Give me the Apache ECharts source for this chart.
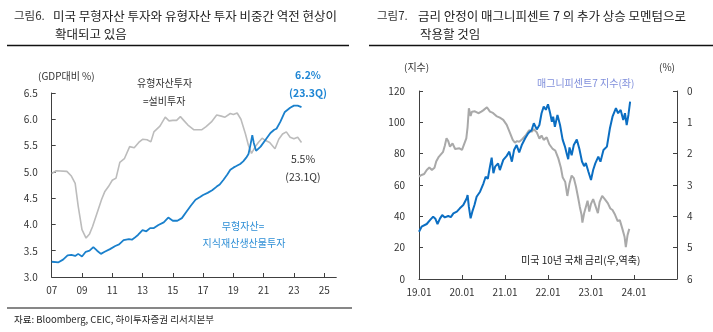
<!DOCTYPE html>
<html><head><meta charset="utf-8">
<script src="https://cdn.jsdelivr.net/npm/echarts@6.0.0/dist/echarts.min.js"></script>
<style>html,body{margin:0;padding:0;background:#fff}#c{width:713px;height:332px}</style>
</head><body><div id="c"></div><script>
// ---- Figure 6 (left): share of GDP, %
const tangibleYears = [2007.0,2007.3,2008.0,2008.3,2008.55,2008.75,2009.0,2009.27,2009.5,2009.7,2010.07,2010.3,2010.5,2010.75,2011.0,2011.25,2011.5,2011.8,2012.15,2012.45,2012.75,2013.0,2013.3,2013.55,2013.75,2014.15,2014.5,2014.75,2015.0,2015.25,2015.5,2015.75,2016.0,2016.4,2016.9,2017.2,2017.55,2017.9,2018.2,2018.45,2018.8,2019.0,2019.25,2019.5,2019.8,2020.0,2020.2,2020.45,2020.65,2020.9,2021.1,2021.4,2021.75,2022.0,2022.25,2022.5,2022.75,2023.0,2023.25,2023.5];
const tangibleVals  = [4.97,5.02,5.01,4.92,4.78,4.35,3.90,3.74,3.82,3.96,4.28,4.48,4.62,4.72,4.84,4.88,5.18,5.25,5.48,5.46,5.56,5.62,5.61,5.57,5.76,5.87,6.04,5.97,5.98,5.98,6.05,5.97,5.89,5.80,5.80,5.86,5.95,6.08,6.06,6.04,6.11,6.09,6.12,6.00,5.72,5.50,5.35,5.48,5.56,5.64,5.60,5.56,5.44,5.62,5.72,5.76,5.66,5.63,5.66,5.56];
const intangibleYears = [2007.0,2007.45,2007.75,2008.05,2008.3,2008.55,2008.75,2009.0,2009.25,2009.5,2009.75,2010.0,2010.25,2010.5,2010.85,2011.2,2011.45,2011.75,2012.1,2012.3,2012.45,2012.7,2013.0,2013.25,2013.5,2013.75,2014.05,2014.4,2014.7,2015.0,2015.3,2015.6,2015.9,2016.2,2016.5,2016.8,2017.0,2017.3,2017.6,2017.9,2018.1,2018.35,2018.6,2018.8,2019.0,2019.2,2019.45,2019.65,2019.85,2020.0,2020.12,2020.25,2020.35,2020.5,2020.8,2021.2,2021.45,2021.7,2021.85,2022.1,2022.4,2022.75,2023.0,2023.25,2023.5];
const intangibleVals  = [3.29,3.28,3.33,3.41,3.42,3.40,3.44,3.39,3.48,3.50,3.57,3.50,3.44,3.48,3.53,3.59,3.62,3.70,3.72,3.71,3.74,3.80,3.89,3.87,3.93,3.93,3.99,4.04,4.13,4.07,4.07,4.12,4.24,4.36,4.47,4.52,4.56,4.60,4.65,4.72,4.76,4.85,4.95,5.04,5.08,5.11,5.15,5.20,5.27,5.34,5.50,5.70,5.55,5.40,5.48,5.64,5.74,5.80,5.82,5.95,6.14,6.22,6.26,6.26,6.23];
const leftYTicks = [3.0,3.5,4.0,4.5,5.0,5.5,6.0,6.5];
const leftXLabels = ['07','09','11','13','15','17','19','21','23','25'];

// ---- Figure 7 (right)
const mag7Dates = [2019.0,2019.06,2019.18,2019.26,2019.33,2019.38,2019.43,2019.49,2019.54,2019.6,2019.68,2019.74,2019.8,2019.88,2019.95,2020.03,2020.11,2020.13,2020.16,2020.2,2020.24,2020.29,2020.34,2020.42,2020.5,2020.55,2020.6,2020.65,2020.69,2020.73,2020.77,2020.8,2020.84,2020.88,2020.96,2021.04,2021.1,2021.16,2021.21,2021.27,2021.33,2021.39,2021.47,2021.54,2021.62,2021.67,2021.74,2021.8,2021.85,2021.9,2021.95,2022.0,2022.05,2022.09,2022.12,2022.16,2022.22,2022.28,2022.34,2022.4,2022.44,2022.47,2022.5,2022.55,2022.6,2022.67,2022.73,2022.79,2022.84,2022.88,2022.94,2023.0,2023.05,2023.1,2023.17,2023.22,2023.29,2023.37,2023.44,2023.5,2023.58,2023.63,2023.69,2023.75,2023.79,2023.83,2023.87,2023.91];
const mag7Vals  = [30.2,33.4,35.1,37.7,39.8,38.5,35.1,38.7,40.8,39.3,40.2,39.5,41.9,43.0,45.1,47.2,51.5,53.6,46,38.7,43,47.2,52.5,55.7,61.1,65.3,64,71.7,77.5,67.5,71.7,70.6,73.8,69.5,76,78.6,81.3,74.9,82.3,85.5,80.8,85.5,89.8,93,95.1,99.4,95.5,98.3,105.8,110,108,111.5,105.8,100.4,103.6,97.2,104.7,98.3,89,84,79.5,76.5,84,79,85.5,89,83,75,72,74,68.5,63.2,69.6,73.8,78.1,74.9,82.3,84.5,96.2,103.6,109,105.8,107.9,101.5,105.8,98.3,104.7,113.2];
const ust10Dates = [2019.0,2019.06,2019.12,2019.18,2019.24,2019.3,2019.36,2019.4,2019.46,2019.5,2019.56,2019.6,2019.64,2019.68,2019.72,2019.78,2019.84,2019.88,2019.94,2020.0,2020.03,2020.1,2020.13,2020.16,2020.2,2020.23,2020.3,2020.38,2020.45,2020.5,2020.58,2020.65,2020.72,2020.8,2020.88,2020.96,2021.04,2021.12,2021.18,2021.23,2021.28,2021.33,2021.4,2021.49,2021.56,2021.62,2021.67,2021.74,2021.8,2021.85,2021.9,2021.97,2022.03,2022.11,2022.17,2022.24,2022.3,2022.34,2022.4,2022.45,2022.5,2022.55,2022.6,2022.65,2022.7,2022.74,2022.78,2022.8,2022.84,2022.88,2022.92,2022.96,2023.0,2023.05,2023.1,2023.16,2023.2,2023.26,2023.32,2023.39,2023.45,2023.5,2023.56,2023.62,2023.67,2023.73,2023.78,2023.81,2023.85,2023.89];
const ust10Vals  = [2.73,2.68,2.65,2.52,2.44,2.52,2.45,2.25,2.1,2.04,1.94,1.75,1.51,1.6,1.78,1.67,1.85,1.88,1.83,1.88,1.85,1.51,1.15,0.55,0.8,0.66,0.65,0.71,0.66,0.61,0.52,0.66,0.7,0.8,0.85,0.92,1.08,1.35,1.56,1.65,1.60,1.62,1.54,1.40,1.25,1.30,1.22,1.32,1.52,1.42,1.56,1.48,1.70,1.85,1.90,2.15,2.45,2.75,2.9,3.35,2.95,2.7,2.78,3.05,3.4,3.7,3.95,4.2,3.9,3.7,3.5,3.85,3.6,3.45,3.65,3.9,3.55,3.35,3.45,3.58,3.75,3.8,3.95,4.15,4.12,4.4,4.65,4.98,4.6,4.4];
const rightXLabels = ['19.01','20.01','21.01','22.01','23.01','24.01'];

const FONT = '"Noto Sans CJK KR","Noto Sans",sans-serif';
const AX = '#404040';
const chart = echarts.init(document.getElementById('c'), null, {renderer:'canvas'});

function txt(x, y, s, o) {
  return Object.assign({type:'text', x:x, y:y, style:Object.assign({text:s, fill:'#222', font:'12.5px '+FONT, textVerticalAlign:'middle'}, o||{})});
}
function line(x1,y1,x2,y2,w){return {type:'line', shape:{x1:x1,y1:y1,x2:x2,y2:y2}, style:{stroke:'#111', lineWidth:w||1.5}};}

const axisBase = {
  axisLine:{show:true, lineStyle:{color:AX, width:1}},
  axisTick:{show:true, inside:true, length:4, lineStyle:{color:AX}},
  splitLine:{show:false},
  axisLabel:{color:'#333', fontSize:10, fontFamily:FONT}
};

const option = {
  animation:false,
  backgroundColor:'#fff',
  grid:[
    {left:51.7, top:93, width:284.6, height:184},
    {left:419, top:91, width:258, height:188}
  ],
  xAxis:[
    Object.assign({}, axisBase, {type:'value', gridIndex:0, min:0, max:18.8, interval:2,
      axisLabel:Object.assign({}, axisBase.axisLabel, {margin:8, showMaxLabel:false,
        formatter:function(v){const i=Math.round(v/2); return (Math.abs(v-i*2)<1e-6 && i<leftXLabels.length)?leftXLabels[i]:'';}})}),
    Object.assign({}, axisBase, {type:'value', gridIndex:1, min:2019, max:2025, interval:1,
      axisLabel:Object.assign({}, axisBase.axisLabel, {margin:8, showMaxLabel:false,
        formatter:function(v){const i=Math.round(v-2019); return (i>=0 && i<rightXLabels.length)?rightXLabels[i]:'';}})})
  ],
  yAxis:[
    Object.assign({}, axisBase, {type:'value', gridIndex:0, min:leftYTicks[0], max:leftYTicks[leftYTicks.length-1], interval:0.5,
      axisLabel:Object.assign({}, axisBase.axisLabel, {margin:14, formatter:function(v){return v.toFixed(1);}})}),
    Object.assign({}, axisBase, {type:'value', gridIndex:1, min:0, max:120, interval:20,
      axisLabel:Object.assign({}, axisBase.axisLabel, {margin:14})}),
    Object.assign({}, axisBase, {type:'value', gridIndex:1, position:'right', inverse:true, min:0, max:6, interval:1,
      axisLabel:Object.assign({}, axisBase.axisLabel, {margin:10})})
  ],
  series:[
    {type:'line', xAxisIndex:0, yAxisIndex:0, showSymbol:false, silent:true,
     lineStyle:{color:'#bcbcbc', width:1.6}, data:tangibleYears.map((x,i)=>[x-2007, tangibleVals[i]])},
    {type:'line', xAxisIndex:0, yAxisIndex:0, showSymbol:false, silent:true,
     lineStyle:{color:'#1a80cc', width:1.8}, data:intangibleYears.map((x,i)=>[x-2007, intangibleVals[i]])},
    {type:'line', xAxisIndex:1, yAxisIndex:2, showSymbol:false, silent:true,
     lineStyle:{color:'#a9a9a9', width:2}, data:ust10Dates.map((x,i)=>[x, ust10Vals[i]])},
    {type:'line', xAxisIndex:1, yAxisIndex:1, showSymbol:false, silent:true,
     lineStyle:{color:'#0b6ec2', width:2}, data:mag7Dates.map((x,i)=>[x, mag7Vals[i]])}
  ],
  graphic:[
    // left title
    txt(14, 16, '그림6.', {font:'11.5px '+FONT, fill:'#333'}),
    txt(53, 16, '미국 무형자산 투자와 유형자산 투자 비중간 역전 현상이'),
    txt(55, 34, '확대되고 있음'),
    line(7, 45.5, 349, 45.5, 1.5),
    // right title
    txt(377, 16, '그림7.', {font:'11.5px '+FONT, fill:'#333'}),
    txt(418, 16, '금리 안정이 매그니피센트 7 의 추가 상승 모멘텀으로'),
    txt(420, 34, '작용할 것임'),
    line(369, 45.5, 713, 45.5, 1.5),
    // footer
    line(7, 308, 352, 308, 1.2),
    txt(14, 319, '자료: Bloomberg, CEIC, 하이투자증권 리서치본부', {font:'9.5px '+FONT, fill:'#222'}),
    // left annotations
    txt(38, 76, '(GDP대비 %)', {font:'10px '+FONT, fill:'#333'}),
    txt(137, 83, '유형자산투자', {font:'10px '+FONT, fill:'#333'}),
    txt(143, 101, '=설비투자', {font:'10px '+FONT, fill:'#333'}),
    txt(308, 75, '6.2%', {font:'bold 10.5px '+FONT, fill:'#1f86d4', textAlign:'center'}),
    txt(308, 93, '(23.3Q)', {font:'bold 10.5px '+FONT, fill:'#1f86d4', textAlign:'center'}),
    txt(303, 159, '5.5%', {font:'10.5px '+FONT, fill:'#333', textAlign:'center'}),
    txt(303, 177, '(23.1Q)', {font:'10.5px '+FONT, fill:'#333', textAlign:'center'}),
    txt(243, 226, '무형자산=', {font:'10px '+FONT, fill:'#2f8fd6', textAlign:'center'}),
    txt(244, 243, '지식재산생산물투자', {font:'10px '+FONT, fill:'#2f8fd6', textAlign:'center'}),
    // right annotations
    txt(404, 67, '(지수)', {font:'10px '+FONT, fill:'#333'}),
    txt(659, 67, '(%)', {font:'10px '+FONT, fill:'#333'}),
    txt(537, 83, '매그니피센트7 지수(좌)', {font:'10px '+FONT, fill:'#7f8edb'}),
    txt(521, 260, '미국 10년 국채 금리(우,역축)', {font:'10px '+FONT, fill:'#222'})
  ]
};
chart.setOption(option);
</script></body></html>
